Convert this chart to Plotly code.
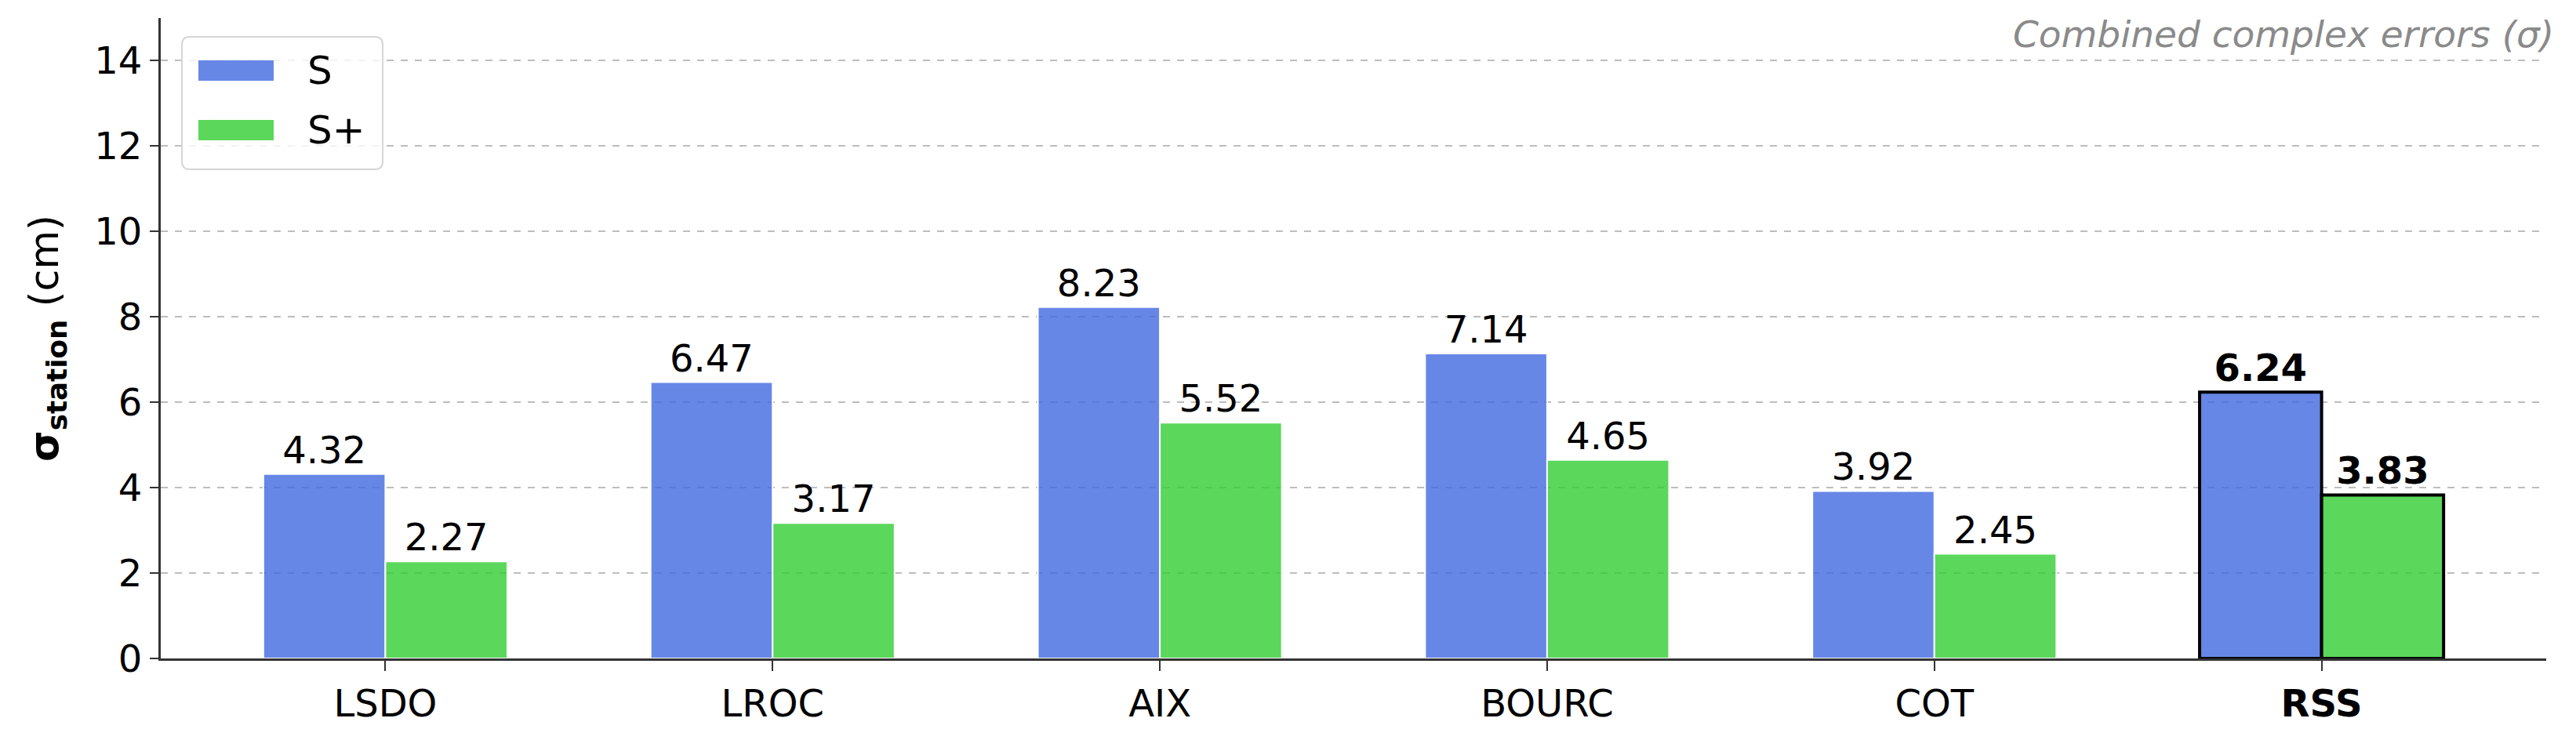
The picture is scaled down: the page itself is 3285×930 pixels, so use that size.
import plotly.graph_objects as go

# Station errors (cm)
stations = ["LSDO", "LROC", "AIX", "BOURC", "COT", "RSS"]
s_vals = [4.32, 6.47, 8.23, 7.14, 3.92, 6.24]
splus_vals = [2.27, 3.17, 5.52, 4.65, 2.45, 3.83]
series_names = ["S", "S+"]
y_ticks = [0, 2, 4, 6, 8, 10, 12, 14]

FONT = "DejaVu Sans"
blue = "rgba(65,105,225,0.8)"    # royalblue, alpha .8
green = "rgba(50,205,50,0.8)"    # limegreen, alpha .8

# page body has an 8px margin, so the figure is 8px smaller and everything shifted by it
OFF = 8
W, H = 3285 - OFF, 930 - OFF
L, R, T, B = 205 - OFF, 38, 23 - OFF, 90

# the RSS group is highlighted: bold labels and black outline
def labels(vals):
    return [f"<b>{v:.2f}</b>" if st == "RSS" else f"{v:.2f}" for st, v in zip(stations, vals)]

edge_col = ["black" if st == "RSS" else "white" for st in stations]
edge_w = [4 if st == "RSS" else 2 for st in stations]
tick_text = ["<b>RSS</b>" if st == "RSS" else st for st in stations]

fig = go.Figure()
for name, vals, col in zip(series_names, [s_vals, splus_vals], [blue, green]):
    fig.add_trace(go.Bar(x=stations, y=vals, name=name, marker=dict(color=col, line=dict(color=edge_col, width=edge_w)),
                         text=labels(vals), textposition="outside", textfont=dict(family=FONT, size=48, color="black"),
                         cliponaxis=False))

fig.update_xaxes(type="category", range=[-0.58, 5.58], tickvals=stations, ticktext=tick_text, automargin=False,
                 showline=True, linecolor="#333", linewidth=3, ticks="outside", ticklen=13, tickwidth=2, tickcolor="#333",
                 tickfont=dict(family=FONT, size=48, color="black"), showgrid=False)
fig.update_yaxes(range=[0, 15], tickvals=y_ticks, showline=True, linecolor="#333", linewidth=3, automargin=False,
                 ticks="outside", ticklen=11, tickwidth=2, tickcolor="#333",
                 tickfont=dict(family=FONT, size=48, color="black"),
                 showgrid=True, gridcolor="#bdbdbd", gridwidth=2, griddash="dash", zeroline=False,
                 title=dict(text="<b>σ<sub>station</sub></b> (cm)", font=dict(family=FONT, size=51, color="black"), standoff=30))

fig.add_annotation(text="<i>Combined complex errors (σ)</i>", xref="paper", yref="paper", x=1.004, y=0.975,
                   xanchor="right", yanchor="middle", showarrow=False, font=dict(family=FONT, size=47, color="#8a8a8a"))

# legend drawn like matplotlib's: rounded frame with wide patches (pixel layout -> paper coords)
pw, ph = W - L - R, H - T - B
px = lambda x: (x - OFF - L) / pw
py = lambda y: (H - B - (y - OFF)) / ph

def round_rect(x0, y0, x1, y1, r):
    return (f"M{px(x0 + r)},{py(y0)} L{px(x1 - r)},{py(y0)} Q{px(x1)},{py(y0)} {px(x1)},{py(y0 + r)} "
            f"L{px(x1)},{py(y1 - r)} Q{px(x1)},{py(y1)} {px(x1 - r)},{py(y1)} "
            f"L{px(x0 + r)},{py(y1)} Q{px(x0)},{py(y1)} {px(x0)},{py(y1 - r)} "
            f"L{px(x0)},{py(y0 + r)} Q{px(x0)},{py(y0)} {px(x0 + r)},{py(y0)} Z")

fig.add_shape(type="path", xref="paper", yref="paper", path=round_rect(232, 47, 488, 216, 10),
              fillcolor="rgba(255,255,255,0.8)", line=dict(color="#d6d6d6", width=2), layer="above")
for i, (name, col) in enumerate(zip(series_names, [blue, green])):
    yc = 90 + i * 76
    fig.add_shape(type="rect", xref="paper", yref="paper", x0=px(253), x1=px(349), y0=py(yc - 13), y1=py(yc + 13),
                  fillcolor=col, line=dict(width=0), layer="above")
    fig.add_annotation(text=name, xref="paper", yref="paper", x=px(390), y=py(yc), xanchor="left", yanchor="middle",
                       showarrow=False, font=dict(family=FONT, size=50, color="black"))

fig.update_layout(width=W, height=H, margin=dict(l=L, r=R, t=T, b=B),
                  barmode="group", bargap=0.37, bargroupgap=0, showlegend=False,
                  plot_bgcolor="white", paper_bgcolor="white")

fig.write_html("out.html")
